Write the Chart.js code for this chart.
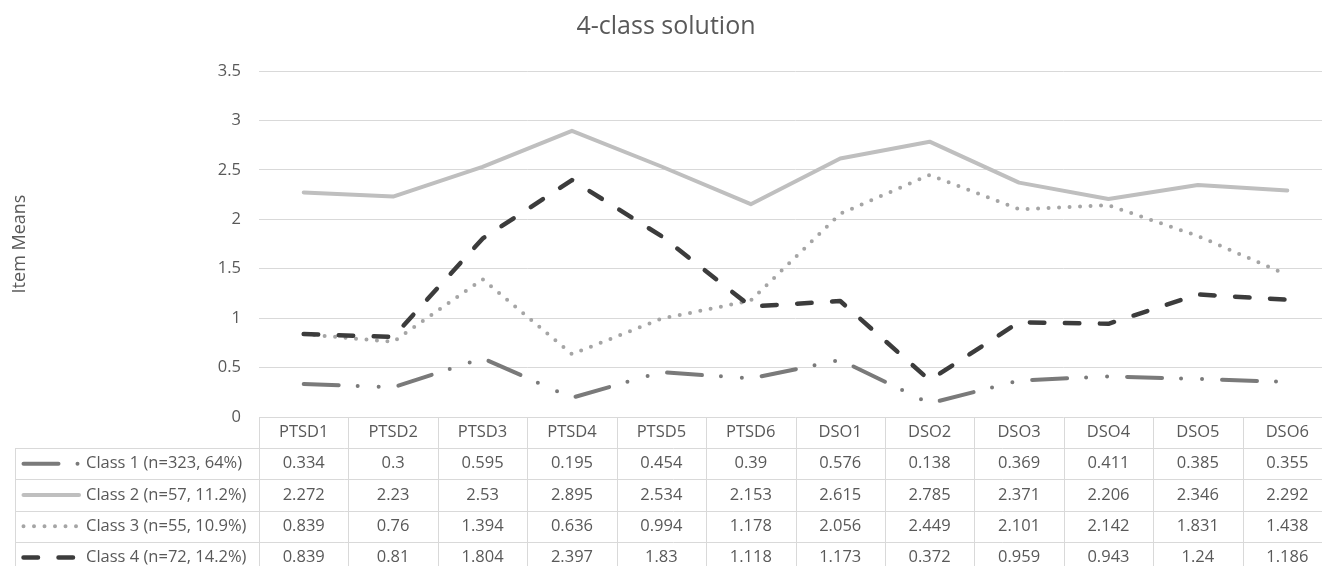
<!DOCTYPE html>
<html>
<head>
<meta charset="utf-8">
<script src="https://cdn.jsdelivr.net/npm/chart.js@4"></script>
<style>
html, body { margin: 0; padding: 0; overflow: hidden; background: #fff; }
</style>
</head>
<body>
<canvas id="myChart" width="1332" height="580"></canvas>
<script>
var titulo = "4-class solution";
var tituloY = "Item Means";
var categorias = ["PTSD1", "PTSD2", "PTSD3", "PTSD4", "PTSD5", "PTSD6", "DSO1", "DSO2", "DSO3", "DSO4", "DSO5", "DSO6"];
var etiquetas = ["Class 1 (n=323, 64%)", "Class 2 (n=57, 11.2%)", "Class 3 (n=55, 10.9%)", "Class 4 (n=72, 14.2%)"];
var clase1 = [0.334, 0.3, 0.595, 0.195, 0.454, 0.39, 0.576, 0.138, 0.369, 0.411, 0.385, 0.355];
var clase2 = [2.272, 2.23, 2.53, 2.895, 2.534, 2.153, 2.615, 2.785, 2.371, 2.206, 2.346, 2.292];
var clase3 = [0.839, 0.76, 1.394, 0.636, 0.994, 1.178, 2.056, 2.449, 2.101, 2.142, 1.831, 1.438];
var clase4 = [0.839, 0.81, 1.804, 2.397, 1.83, 1.118, 1.173, 0.372, 0.959, 0.943, 1.24, 1.186];
var ticksY = [0, 0.5, 1, 1.5, 2, 2.5, 3, 3.5];

var gris = '#595959';
var fuente = '"Open Sans", sans-serif';

// tabla de datos debajo del grafico, como en Excel
var tablaPlugin = {
    id: 'tabla',
    afterDraw: function (chart) {
        let ctx = chart.ctx;
        let area = chart.chartArea;
        let xs = chart.scales.x;
        let anchoCol = (area.right - area.left) / categorias.length;
        let arriba = area.bottom;
        let altoCab = 31;
        let altoFila = 31.3;
        let izq = 15;
        let abajo = arriba + altoCab + altoFila * chart.data.datasets.length;

        ctx.save();
        ctx.strokeStyle = '#d9d9d9';
        ctx.lineWidth = 1;
        ctx.beginPath();
        for (let i = 0; i <= categorias.length; i++) {
            let x = Math.round(area.left + i * anchoCol) + 0.5;
            ctx.moveTo(x, arriba);
            ctx.lineTo(x, abajo);
        }
        for (let k = 0; k <= chart.data.datasets.length; k++) {
            let y = Math.round(arriba + altoCab + k * altoFila) + 0.5;
            ctx.moveTo(izq, y);
            ctx.lineTo(area.right, y);
        }
        ctx.moveTo(izq + 0.5, arriba + altoCab);
        ctx.lineTo(izq + 0.5, abajo);
        ctx.stroke();

        ctx.fillStyle = gris;
        ctx.font = '16.5px ' + fuente;
        ctx.textBaseline = 'middle';
        ctx.textAlign = 'center';
        categorias.forEach(function (c, i) {
            ctx.fillText(c, xs.getPixelForValue(i), arriba + altoCab / 2);
        });

        chart.data.datasets.forEach(function (ds, k) {
            let yc = arriba + altoCab + altoFila * k + altoFila / 2;
            ds.data.forEach(function (v, i) {
                ctx.fillText(String(v), xs.getPixelForValue(i), yc);
            });
            // muestra de la linea
            ctx.save();
            ctx.strokeStyle = ds.borderColor;
            ctx.lineWidth = ds.borderWidth;
            ctx.lineCap = 'round';
            ctx.setLineDash(ds.borderDash || []);
            ctx.beginPath();
            ctx.moveTo(23.5, yc);
            ctx.lineTo(79, yc);
            ctx.stroke();
            ctx.restore();
            ctx.textAlign = 'left';
            ctx.fillText(ds.label, 86, yc);
            ctx.textAlign = 'center';
        });
        ctx.restore();
    }
};

var graficar = document.getElementById("myChart").getContext("2d");
var myChart = new Chart(graficar, {
    type: "line",
    data: {
        labels: categorias,
        datasets: [
            {label: etiquetas[0], data: clase1, borderColor: '#7a7a7a', borderWidth: 4, borderDash: [35, 19, 0, 21, 0, 20], order: 4},
            {label: etiquetas[1], data: clase2, borderColor: '#bfbfbf', borderWidth: 4, borderDash: [], order: 3},
            {label: etiquetas[2], data: clase3, borderColor: '#a5a5a5', borderWidth: 4, borderDash: [0, 10.5], order: 2},
            {label: etiquetas[3], data: clase4, borderColor: '#3c3c3c', borderWidth: 4.5, borderDash: [14.5, 20.5], order: 1}
        ].map(function (d) {
            d.pointRadius = 0;
            d.tension = 0;
            d.fill = false;
            d.borderCapStyle = 'round';
            d.borderJoinStyle = 'round';
            return d;
        })
    },
    options: {
        responsive: false,
        animation: false,
        layout: {padding: {left: 0, right: 0, top: 0, bottom: 163}},
        plugins: {
            legend: {display: false},
            tooltip: {enabled: false},
            title: {display: true, text: titulo, color: gris, font: {family: fuente, size: 25, weight: 'normal'}, padding: {top: 12, bottom: 29}}
        },
        scales: {
            x: {type: 'category', offset: true, display: false},
            y: {
                min: ticksY[0],
                max: ticksY[ticksY.length - 1],
                afterBuildTicks: function (s) { s.ticks = ticksY.map(function (v) { return {value: v}; }); },
                afterFit: function (s) { s.width = 259; },
                ticks: {color: gris, font: {family: fuente, size: 16.5}, padding: 18, callback: function (v) { return String(v); }},
                grid: {color: '#d9d9d9', lineWidth: 1, drawTicks: false},
                border: {display: false},
                title: {display: true, text: tituloY, color: gris, font: {family: fuente, size: 18}, padding: {top: 9, bottom: 0}}
            }
        }
    },
    plugins: [tablaPlugin]
});
</script>
</body>
</html>
